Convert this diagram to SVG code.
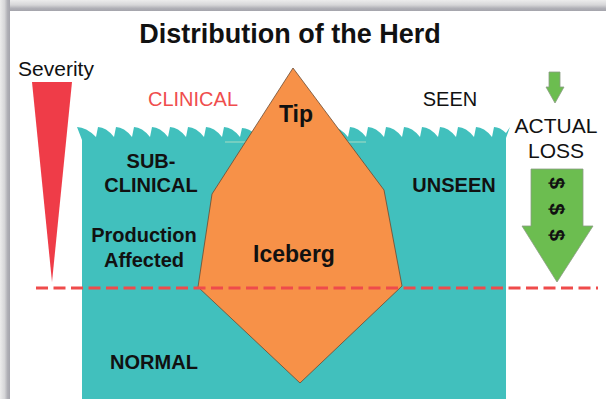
<svg xmlns="http://www.w3.org/2000/svg" width="606" height="399" viewBox="0 0 606 399">
  <defs>
    <linearGradient id="gTop" x1="0" y1="0" x2="0" y2="1">
      <stop offset="0" stop-color="#ececec"/>
      <stop offset="0.45" stop-color="#d6d6d8"/>
      <stop offset="0.75" stop-color="#b0b0b6"/>
      <stop offset="1" stop-color="#a4a4ac"/>
    </linearGradient>
    <linearGradient id="gLeft" x1="0" y1="0" x2="1" y2="0">
      <stop offset="0" stop-color="#ececec"/>
      <stop offset="0.45" stop-color="#d6d6d8"/>
      <stop offset="0.75" stop-color="#b0b0b6"/>
      <stop offset="1" stop-color="#a4a4ac"/>
    </linearGradient>
    <style>
      .lbl { font-family: "Liberation Sans", Arial, sans-serif; fill: #111; }
      .b { font-weight: bold; }
      .s195 { font-size: 20px; }
      .s205 { font-size: 21px; }
      .s23 { font-size: 23px; }
      .arrow { fill: #6cbd50; stroke: #8c9c84; stroke-width: 0.8; }
    </style>
  </defs>

  <!-- frame / shadow -->
  <rect x="0" y="0" width="606" height="399" fill="#ffffff"/>
  <rect x="0" y="0" width="606" height="11" fill="url(#gTop)"/>
  <rect x="0" y="0" width="10" height="399" fill="url(#gLeft)"/>
  <rect x="10" y="11" width="596" height="388" fill="#ffffff"/>

  <text class="lbl b" x="290" y="43" text-anchor="middle" style="font-size:27px">Distribution of the Herd</text>

  <!-- severity wedge -->
  <g id="severity">
    <text class="lbl s205" x="56" y="76" text-anchor="middle">Severity</text>
    <polygon points="32,82 72,82 52,282" fill="#ef3c48"/>
  </g>

  <!-- water -->
  <g id="water">
    <path fill="#41c0bd" d="M82,399 L82,140 L77,127 Q86,127 96,137 L98,127 Q106,127 114,137 L116,127 Q124,127 132,137 L134,127 Q142,127 150,137 L152,127 Q160,127 168,137 L170,127 Q178,127 186,137 L188,127 Q196,127 204,137 L206,127 Q214,127 222,137 L224,127 Q232,127 240,137 L242,128 Q250,128 258,137 L260,127 Q268,127 276,137 L278,127 Q286,127 294,137 L296,127 Q304,127 312,137 L314,127 Q322,127 330,137 L332,127 Q340,127 348,137 L350,127 Q358,127 366,137 L368,127 Q376,127 384,137 L386,127 Q394,127 402,137 L404,127 Q412,127 420,137 L422,127 Q430,127 438,137 L440,127 Q448,127 456,137 L458,127 Q466,127 474,137 L476,127 Q484,127 492,137 L494,127 Q500,127 506,133 L510,127 L506,138 L506,399 Z"/>
    <line x1="225" y1="142" x2="366" y2="142" stroke="#a8dcc4" stroke-width="1"/>
  </g>

  <!-- iceberg -->
  <g id="iceberg">
    <polygon points="293,68 384,190 402,286 300,383 198,287 212,194" fill="#f79148" stroke="#6a4a32" stroke-width="0.8" stroke-linejoin="round"/>
    <text class="lbl b s23" x="296" y="122" text-anchor="middle">Tip</text>
    <text class="lbl b s23" x="294" y="262" text-anchor="middle">Iceberg</text>
  </g>

  <!-- labels -->
  <g id="clinical">
    <text class="lbl s195" x="193" y="106" text-anchor="middle" style="fill:#ef4d4d">CLINICAL</text>
  </g>
  <g id="seen">
    <text class="lbl s195" x="450" y="106" text-anchor="middle">SEEN</text>
  </g>
  <g id="subclinical">
    <text class="lbl b s195" x="151" y="168" text-anchor="middle">SUB-</text>
    <text class="lbl b s195" x="151" y="192" text-anchor="middle">CLINICAL</text>
  </g>
  <g id="unseen">
    <text class="lbl b s195" x="454" y="192" text-anchor="middle">UNSEEN</text>
  </g>
  <g id="production">
    <text class="lbl b s195" x="144" y="242" text-anchor="middle">Production</text>
    <text class="lbl b s195" x="144" y="267" text-anchor="middle">Affected</text>
  </g>
  <g id="normal">
    <text class="lbl b s195" x="154" y="369" text-anchor="middle">NORMAL</text>
  </g>

  <!-- actual loss -->
  <g id="actual-loss">
    <polygon class="arrow" points="549,72 560,72 560,87 564,87 555,103 546,87 549,87"/>
    <text class="lbl s205" x="556" y="133" text-anchor="middle">ACTUAL</text>
    <text class="lbl s205" x="556" y="158" text-anchor="middle">LOSS</text>
    <polygon class="arrow" points="531,169 583,169 583,226 593,226 557,282 522,226 531,226"/>
    <g class="lbl b" style="font-size:21px">
      <text transform="translate(557,183) rotate(90)" text-anchor="middle" dy="7.5">$</text>
      <text transform="translate(557,209) rotate(90)" text-anchor="middle" dy="7.5">$</text>
      <text transform="translate(557,235) rotate(90)" text-anchor="middle" dy="7.5">$</text>
    </g>
  </g>

  <!-- threshold line -->
  <g id="connectors">
    <line x1="36" y1="288" x2="598" y2="288" stroke="#ef4b4b" stroke-width="3" stroke-dasharray="12,5.5"/>
  </g>
</svg>
